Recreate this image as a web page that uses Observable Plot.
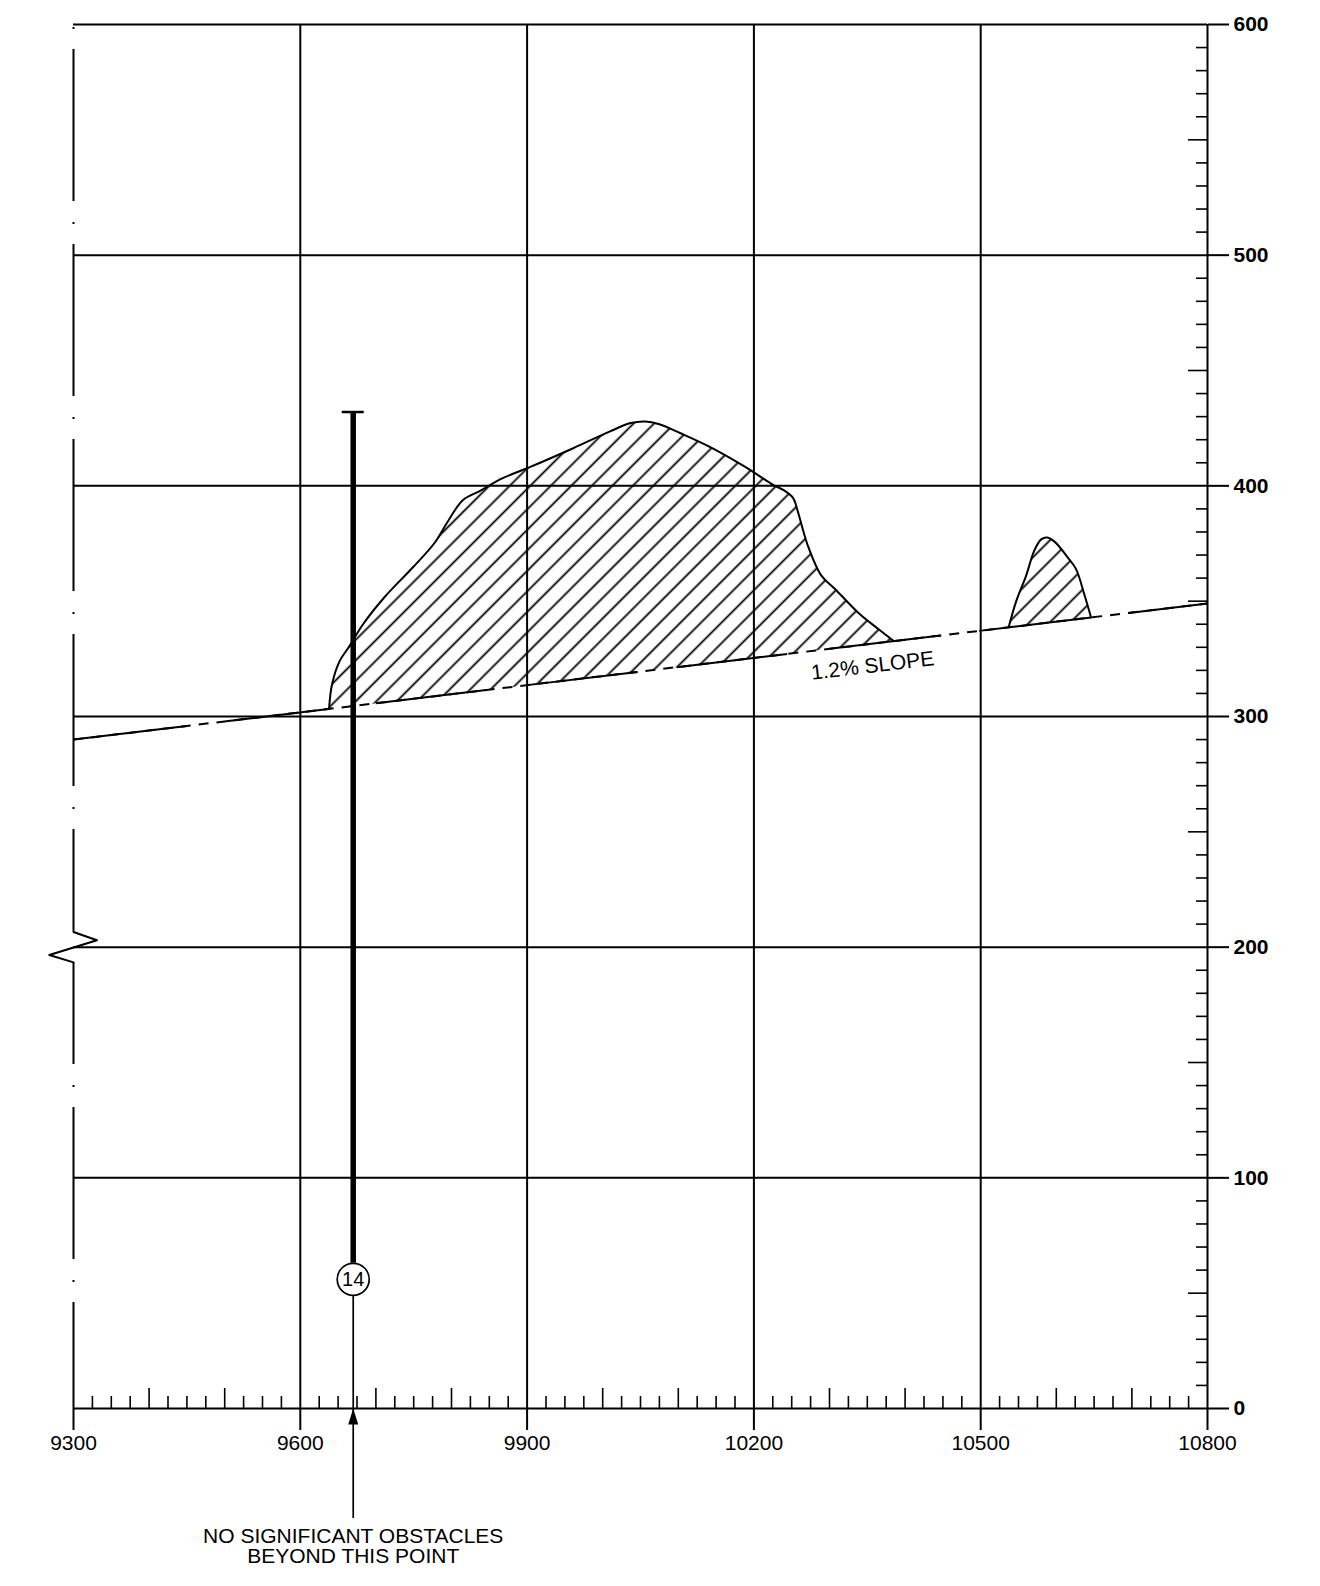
<!DOCTYPE html>
<html>
<head>
<meta charset="utf-8">
<script src="https://cdn.jsdelivr.net/npm/d3@7"></script>
<script src="https://cdn.jsdelivr.net/npm/@observablehq/plot@0.6"></script>
<style>
  html, body { margin: 0; padding: 0; background: #fff; }
  #chart svg { display: block; }
</style>
</head>
<body>
<div id="chart"></div>
<script>
// ---- axes / ticks ----
const xDomain = [9300, 10800];
const yDomain = [0, 600];
const xMajor = [9300, 9600, 9900, 10200, 10500, 10800];
const xGrid = [9600, 9900, 10200, 10500];
const yMajor = [0, 100, 200, 300, 400, 500, 600];
const xMedium = d3.range(9400, 10800, 100).filter(v => v % 300 !== 0);
const xMinor = d3.range(9325, 10800, 25).filter(v => v % 100 !== 0);
const yMedium = d3.range(50, 600, 100);
const yMinor = d3.range(10, 600, 10).filter(v => v % 50 !== 0);

// ---- 1.2% slope reference line ----
const slopeStart = [9300, 290];
const slopeEnd = [10800, 349];
const slopeSolid = [[9300, 9450], [9502, 9640], [9700, 9846], [9900, 10046], [10098, 10244], [10300, 10447], [10498, 10646], [10696, 10800]];
const slopeLabel = "1.2% SLOPE";
const slopeLabelPos = [10357, 322];

// ---- terrain obstacles ----
const mainX = [9638, 9642, 9652, 9664, 9683, 9711, 9749, 9777, 9796, 9815, 9839, 9867, 9905, 9961, 10009, 10037, 10056, 10075, 10103, 10141, 10188, 10226, 10240, 10252, 10258, 10271, 10289, 10307, 10338, 10365, 10385];
const mainY = [303.3, 314, 324, 330, 340, 351.6, 364.7, 375, 385, 393.8, 398, 403.2, 408.3, 416.3, 423.5, 427.2, 427.9, 426.7, 422.8, 417, 408.3, 400.3, 398, 394.7, 389, 374.4, 361.2, 355.4, 345, 337.8, 332.7];
const smallX = [10537, 10547, 10560, 10571, 10580, 10588, 10598, 10615, 10626, 10637, 10646];
const smallY = [338.7, 350, 361, 372, 376.8, 377.6, 375.7, 369, 364, 353, 342.9];

// ---- obstacle marker ----
const obstacleX = 9670;
const obstacleTop = 432;
const obstacleLabel = "14";
const obstacleLabelY = 56;
const caption = "NO SIGNIFICANT OBSTACLES\nBEYOND THIS POINT";

// ---- axis break symbol on left edge ----
const breakX = [9300, 9331, 9268, 9300];
const breakY = [206.6, 203, 196.6, 193.4];

// derived
const slopeAt = x => slopeStart[1] + (x - slopeStart[0]) * (slopeEnd[1] - slopeStart[1]) / (slopeEnd[0] - slopeStart[0]);
const mainPts = mainX.map((x, i) => ({x, y: mainY[i]}));
const smallPts = smallX.map((x, i) => ({x, y: smallY[i]}));
const breakPts = breakX.map((x, i) => ({x, y: breakY[i]}));
const arrowSymbol = {
  draw(context) {
    context.moveTo(0, -8);
    context.lineTo(5, 8);
    context.lineTo(-5, 8);
    context.closePath();
  }
};

const W = 2;
const FONT = 21;
const svg = Plot.plot({
  width: 1320,
  height: 1586,
  marginLeft: 73,
  marginRight: 113,
  marginTop: 24,
  marginBottom: 178,
  x: {domain: xDomain},
  y: {domain: yDomain},
  style: {fontFamily: "'Liberation Sans', Arial, sans-serif", fontSize: FONT + "px", color: "black", background: "white", overflow: "visible"},
  marks: [
    // hatched fills
    Plot.line(mainPts, {x: "x", y: "y", fill: "url(#hatch)", stroke: "none", curve: "catmull-rom"}),
    Plot.line(smallPts, {x: "x", y: "y", fill: "url(#hatch)", stroke: "none", curve: "catmull-rom"}),
    // grid
    Plot.ruleY(yMajor, {x1: xDomain[0], x2: xDomain[1], stroke: "black", strokeWidth: W}),
    Plot.ruleX(xGrid, {y1: yDomain[1], y2: yDomain[0], stroke: "black", strokeWidth: W}),
    Plot.ruleX([xDomain[1]], {y1: yDomain[1], y2: yDomain[0], stroke: "black", strokeWidth: W}),
    // left dash-dot edge with break
    Plot.ruleX([xDomain[0]], {y1: yDomain[1], y2: breakY[0], stroke: "black", strokeWidth: W, strokeDasharray: "152,21,2,20", strokeDashoffset: 170}),
    Plot.ruleX([xDomain[0]], {y1: breakY[3], y2: yDomain[0], stroke: "black", strokeWidth: W, strokeDasharray: "152,21,2,20", strokeDashoffset: 50}),
    Plot.line(breakPts, {x: "x", y: "y", stroke: "black", strokeWidth: W}),
    // minor ticks
    Plot.ruleX(xMinor, {y1: 0, y2: 0, insetTop: -12, stroke: "black", strokeWidth: 1.6}),
    Plot.ruleX(xMedium, {y1: 0, y2: 0, insetTop: -20, stroke: "black", strokeWidth: 1.6}),
    Plot.ruleY(yMinor, {x1: xDomain[1], x2: xDomain[1], insetLeft: -11, stroke: "black", strokeWidth: 1.6}),
    Plot.ruleY(yMedium, {x1: xDomain[1], x2: xDomain[1], insetLeft: -19, stroke: "black", strokeWidth: 1.6}),
    // axes
    Plot.axisX({ticks: xMajor, anchor: "bottom", tickSize: 22, tickPadding: 5, tickFormat: d => String(d), fontSize: FONT, strokeWidth: W, label: null}),
    Plot.axisY({ticks: yMajor, anchor: "right", tickSize: 21, tickPadding: 5, tickFormat: d => String(d), fontSize: FONT, fontWeight: "bold", strokeWidth: W, label: null}),
    // slope line
    Plot.link([[slopeStart, slopeEnd]], {x1: d => d[0][0], y1: d => d[0][1], x2: d => d[1][0], y2: d => d[1][1], stroke: "black", strokeWidth: W, strokeDasharray: "10,8"}),
    Plot.link(slopeSolid, {x1: d => d[0], y1: d => slopeAt(d[0]), x2: d => d[1], y2: d => slopeAt(d[1]), stroke: "black", strokeWidth: W}),
    Plot.text([slopeLabel], {x: slopeLabelPos[0], y: slopeLabelPos[1], text: d => d, rotate: -6.8, fontSize: FONT}),
    // obstacle outlines
    Plot.line(mainPts, {x: "x", y: "y", stroke: "black", strokeWidth: W, curve: "catmull-rom"}),
    Plot.line(smallPts, {x: "x", y: "y", stroke: "black", strokeWidth: W, curve: "catmull-rom"}),
    // obstacle marker
    Plot.ruleX([obstacleX], {y1: obstacleTop, y2: obstacleLabelY, insetBottom: 16, stroke: "black", strokeWidth: 5.5}),
    Plot.ruleY([obstacleTop], {x1: obstacleX, x2: obstacleX, insetLeft: -11, insetRight: -11, stroke: "black", strokeWidth: 2.5}),
    Plot.ruleX([obstacleX], {y1: obstacleLabelY, y2: 0, insetTop: 16, stroke: "black", strokeWidth: 1.7}),
    Plot.dot([obstacleX], {x: d => d, y: obstacleLabelY, r: 16, stroke: "black", fill: "white", strokeWidth: 1.7}),
    Plot.text([obstacleLabel], {x: obstacleX, y: obstacleLabelY, text: d => d, fontSize: 20}),
    Plot.ruleX([obstacleX], {y1: 0, y2: 0, insetBottom: -110, stroke: "black", strokeWidth: 1.7}),
    Plot.dot([obstacleX], {x: d => d, y: 0, symbol: arrowSymbol, r: 5, fill: "black", stroke: "none", dy: 8}),
    Plot.text([caption], {x: obstacleX, y: 0, text: d => d, dy: 138, fontSize: FONT, lineHeight: 0.96})
  ]
});

const defs = d3.select(svg).insert("defs", ":first-child");
defs.append("pattern")
  .attr("id", "hatch")
  .attr("patternUnits", "userSpaceOnUse")
  .attr("width", 14.5)
  .attr("height", 14.5)
  .attr("patternTransform", "rotate(45)")
  .append("line")
  .attr("x1", 7.25).attr("y1", -1)
  .attr("x2", 7.25).attr("y2", 15.5)
  .attr("stroke", "black")
  .attr("stroke-width", 1.8);

document.getElementById("chart").appendChild(svg);
</script>
</body>
</html>
